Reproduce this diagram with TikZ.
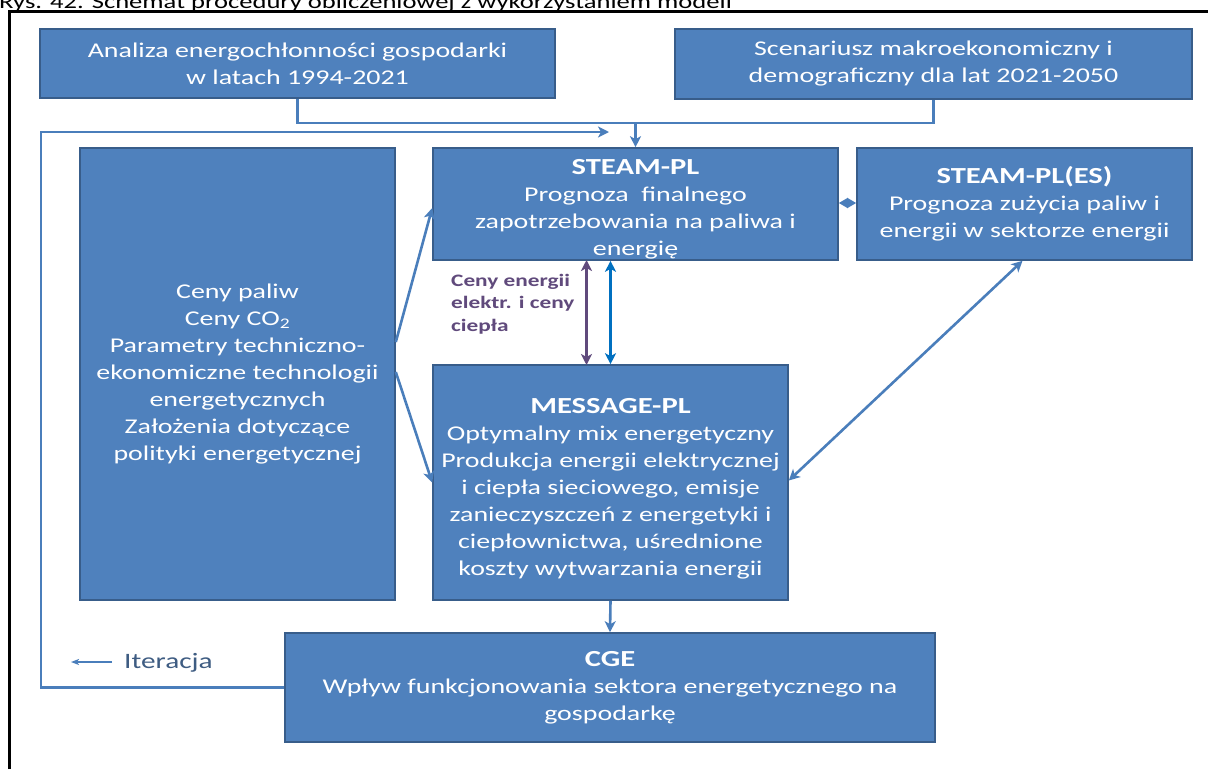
\documentclass[tikz,border=0pt]{standalone}
\usepackage{fontspec}
\setmainfont{Carlito}[FakeStretch=1.33]
\usetikzlibrary{arrows.meta,calc}
\definecolor{boxfill}{RGB}{79,129,189}
\definecolor{boxline}{RGB}{56,93,138}
\definecolor{conn}{RGB}{74,126,187}
\definecolor{purp}{RGB}{96,74,124}
\definecolor{bluearr}{RGB}{0,112,192}
\definecolor{itertext}{RGB}{62,92,130}
\tikzset{
  box/.style={draw=boxline, line width=1.6pt, fill=boxfill, text=white, align=center, inner sep=0pt,
    font=\fontsize{21}{27}\selectfont},
  conline/.style={draw=conn, line width=2.6pt},
  tip/.style={-{Stealth[length=11pt,width=11pt,inset=3pt]}},
  dtip/.style={{Stealth[length=11pt,width=11pt,inset=3pt]}-{Stealth[length=11pt,width=11pt,inset=3pt]}},
  frameline/.style={draw=black, line width=2.4pt},
}
\newcommand{\ttlfont}{\fontsize{23}{27}\selectfont\bfseries}
\begin{document}
\begin{tikzpicture}[x=1pt,y=-1pt]
\useasboundingbox (0,0) rectangle (1208,769);
\fill[white] (0,0) rectangle (1208,769);
% caption (cut at top)
\node[anchor=base west, inner sep=0pt, font=\fontsize{20}{24}\selectfont] (cap) at (-1,8.5) {Rys. 42. Schemat procedury obliczeniowej z wykorzystaniem modeli};
% frame
\coordinate (fr1) at (9.5,769);
\coordinate (fr2) at (9.5,11.5);
\coordinate (fr3) at (1210,11.5);
\draw[frameline] (fr1) -- (fr2) -- (fr3);
% boxes
\node[box, minimum width=515, minimum height=69] (A) at (297.5,63.5)
  {Analiza energochłonności gospodarki\\ w latach 1994-2021};
\node[box, minimum width=517, minimum height=70] (B) at (933.5,64)
  {Scenariusz makroekonomiczny i\\ demograficzny dla lat 2021-2050};
\node[box, minimum width=315, minimum height=452] (L) at (237.5,374)
  {Ceny paliw\\ Ceny CO\textsubscript{2}\\ Parametry techniczno-\\ ekonomiczne technologii\\ energetycznych\\ Założenia dotyczące\\ polityki energetycznej};
\node[box, minimum width=405, minimum height=112] (steam) at (635.5,204)
  {\rule{0pt}{25pt}{\ttlfont STEAM-PL}\\ Prognoza\ \ finalnego\\ zapotrzebowania na paliwa i\\ energię};
\node[box, minimum width=335, minimum height=112] (es) at (1024.5,204)
  {{\ttlfont STEAM-PL(ES)}\\ Prognoza zużycia paliw i\\ energii w sektorze energii};
\node[box, minimum width=355, minimum height=235] (msg) at (610.5,482.5)
  {\rule{0pt}{27pt}{\ttlfont MESSAGE-PL}\\ Optymalny mix energetyczny\\ Produkcja energii elektrycznej\\ i ciepła sieciowego, emisje\\ zanieczyszczeń z energetyki i\\ ciepłownictwa, uśrednione\\ koszty wytwarzania energii};
\node[box, minimum width=650, minimum height=109] (cge) at (610,687.5)
  {{\ttlfont CGE}\\ Wpływ funkcjonowania sektora energetycznego na\\ gospodarkę};
% label between steam and message
\node[anchor=west, align=left, inner sep=0pt, text=purp, font=\fontsize{17.5}{22.5}\selectfont\bfseries] (lbl) at (451,304)
  {Ceny energii\\ elektr. i ceny\\ ciepła};
% iteration label
\node[anchor=west, inner sep=0pt, text=itertext, font=\fontsize{22}{26}\selectfont] (iter) at (124,663) {Iteracja};
\coordinate (itA) at (112,662);
\coordinate (itB) at (71,662);
\draw[draw=conn, line width=1.6pt, -{Stealth[length=8pt,width=6pt,inset=2pt]}] (itA) -- (itB);
% top connectors
\coordinate (j) at (635.5,123);
\draw[conline] (A.south) |- (j);
\draw[conline] (B.south) |- (j);
\draw[conline, tip] (j) -- (steam.north);
% iteration loop
\coordinate (lc) at (41,132);
\coordinate (le) at (609,132);
\draw[conline, tip] (cge.west) -| (lc) -- (le);
% left box to models
\draw[conline, tip] ($(L.east)+(0,-32)$) -- ($(steam.west)+(0,4)$);
\draw[conline, tip] ($(L.east)+(0,-2)$) -- (msg.west);
% steam <-> es
\draw[draw=conn, line width=1.6pt, {Triangle[length=9pt,width=10pt]}-{Triangle[length=9pt,width=10pt]}] ($(steam.east)+(0,-1)$) -- ($(es.west)+(0,-1)$);
% steam <-> message
\coordinate (pb) at (586.5,365);
\coordinate (pt) at (586.5,260);
\draw[draw=purp, line width=2.4pt, dtip] (pb) -- (pt);
\draw[draw=bluearr, line width=2.4pt, dtip] (msg.north) -- (msg.north |- steam.south);
% message <-> es
\draw[conline, dtip] ($(msg.east)+(0,-2)$) -- ($(es.south)+(-2,0)$);
% message -> cge
\draw[conline, tip] (msg.south) -- (cge.north);
\end{tikzpicture}
\end{document}
